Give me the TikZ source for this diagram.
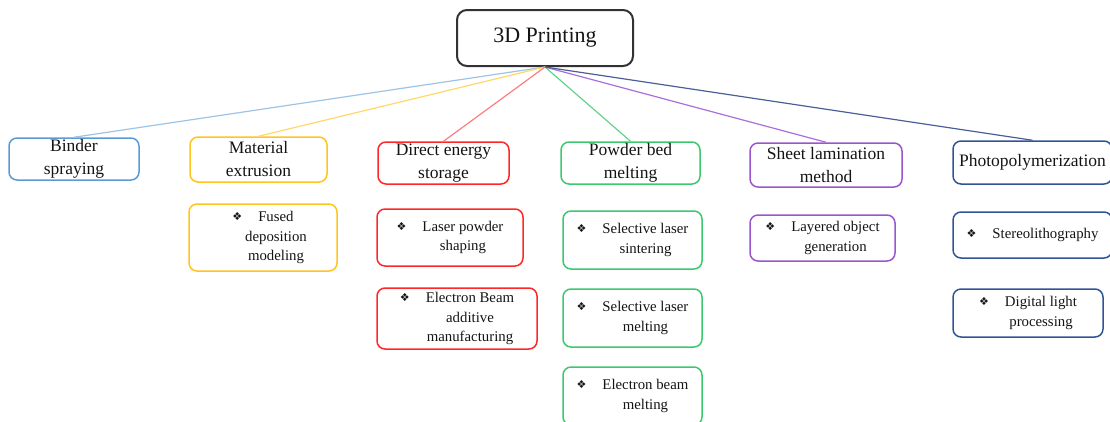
\documentclass[tikz,border=0pt]{standalone}
\usepackage{fontspec}
\setmainfont{Liberation Serif}
\newfontfamily\dejavu{DejaVu Sans}
\newcommand\bul{\raisebox{1pt}{\dejavu\fontsize{11}{11}\selectfont ❖}}
\newcommand\bgap{\hspace*{16pt}}
\newcommand\bind{\hspace*{26pt}}
\definecolor{cblue}{RGB}{91,155,213}
\definecolor{lblue}{RGB}{157,195,230}
\definecolor{cyel}{RGB}{255,196,30}
\definecolor{lyel}{RGB}{255,217,102}
\definecolor{cred}{RGB}{255,40,40}
\definecolor{lred}{RGB}{255,124,128}
\definecolor{cgrn}{RGB}{60,200,110}
\definecolor{lgrn}{RGB}{100,210,140}
\definecolor{cpur}{RGB}{155,85,205}
\definecolor{lpur}{RGB}{170,110,220}
\definecolor{cdbl}{RGB}{47,85,151}
\definecolor{ldbl}{RGB}{75,95,150}
\definecolor{croot}{RGB}{50,50,50}
\definecolor{ctext}{RGB}{20,20,20}
\begin{document}
\begin{tikzpicture}[x=1pt,y=-1pt,
  box/.style={draw, rounded corners=8pt, line width=1.5pt, inner sep=0pt,
    align=center, text=ctext, font=\fontsize{17.5}{23}\selectfont},
  sub/.style={box, font=\fontsize{14.8}{19.5}\selectfont},
  rootbox/.style={draw=croot, rounded corners=10pt, line width=2pt, inner sep=0pt,
    text=ctext, font=\fontsize{22}{26}\selectfont},
  link/.style={line width=1.2pt}]
\useasboundingbox (0,0) rectangle (1110,421);
\clip (0,0) rectangle (1110,421);

\node[rootbox, minimum width=176pt, minimum height=56pt] (root) at (545,38) {3D Printing};

\node[box, draw=cblue, minimum width=130pt, minimum height=42pt] (binder) at (74,159) {Binder\\spraying};
\node[box, draw=cyel, minimum width=137pt, minimum height=45pt] (material) at (258.5,159.5) {Material\\extrusion};
\node[box, draw=cred, minimum width=131pt, minimum height=42pt] (direct) at (443.5,163) {Direct energy\\storage};
\node[box, draw=cgrn, minimum width=139pt, minimum height=42pt] (powder) at (630.5,163) {Powder bed\\melting};
\node[box, draw=cpur, minimum width=152pt, minimum height=44pt] (sheet) at (826,165) {Sheet lamination\\method};
\node[box, draw=cdbl, minimum width=159pt, minimum height=43pt] (photo) at (1032.5,162.5) {Photopolymerization};

\node[sub, draw=cyel, minimum width=148pt, minimum height=67pt] (fused) at (263,237.5) {\bul\bgap Fused\\\bind deposition\\\bind modeling};
\node[sub, draw=cred, minimum width=146pt, minimum height=57pt] (laser) at (450,237.5) {\bul\bgap Laser powder\\\bind shaping};
\node[sub, draw=cred, minimum width=160pt, minimum height=61pt] (ebam) at (457,318.5) {\bul\bgap Electron Beam\\\bind additive\\\bind manufacturing};
\node[sub, draw=cgrn, minimum width=139pt, minimum height=58pt] (sls) at (632.5,240) {\bul\bgap Selective laser\\\bind sintering};
\node[sub, draw=cgrn, minimum width=139pt, minimum height=58pt] (slm) at (632.5,318) {\bul\bgap Selective laser\\\bind melting};
\node[sub, draw=cgrn, minimum width=139pt, minimum height=58pt] (ebm) at (632.5,396) {\bul\bgap Electron beam\\\bind melting};
\node[sub, draw=cpur, minimum width=145pt, minimum height=46pt] (layered) at (822.5,238) {\bul\bgap Layered object\\\bind generation};
\node[sub, draw=cdbl, minimum width=159pt, minimum height=46pt] (stereo) at (1032.5,235) {\bul\bgap Stereolithography};
\node[sub, draw=cdbl, minimum width=150pt, minimum height=48pt] (dlp) at (1028,313) {\bul\bgap Digital light\\\bind processing};

\draw[link, lblue] (root.south) -- (binder.north);
\draw[link, lyel] (root.south) -- (material.north);
\draw[link, lred] (root.south) -- (direct.north);
\draw[link, lgrn] (root.south) -- (powder.north);
\draw[link, lpur] (root.south) -- (sheet.north);
\draw[link, ldbl] (root.south) -- (photo.north);
\end{tikzpicture}
\end{document}
